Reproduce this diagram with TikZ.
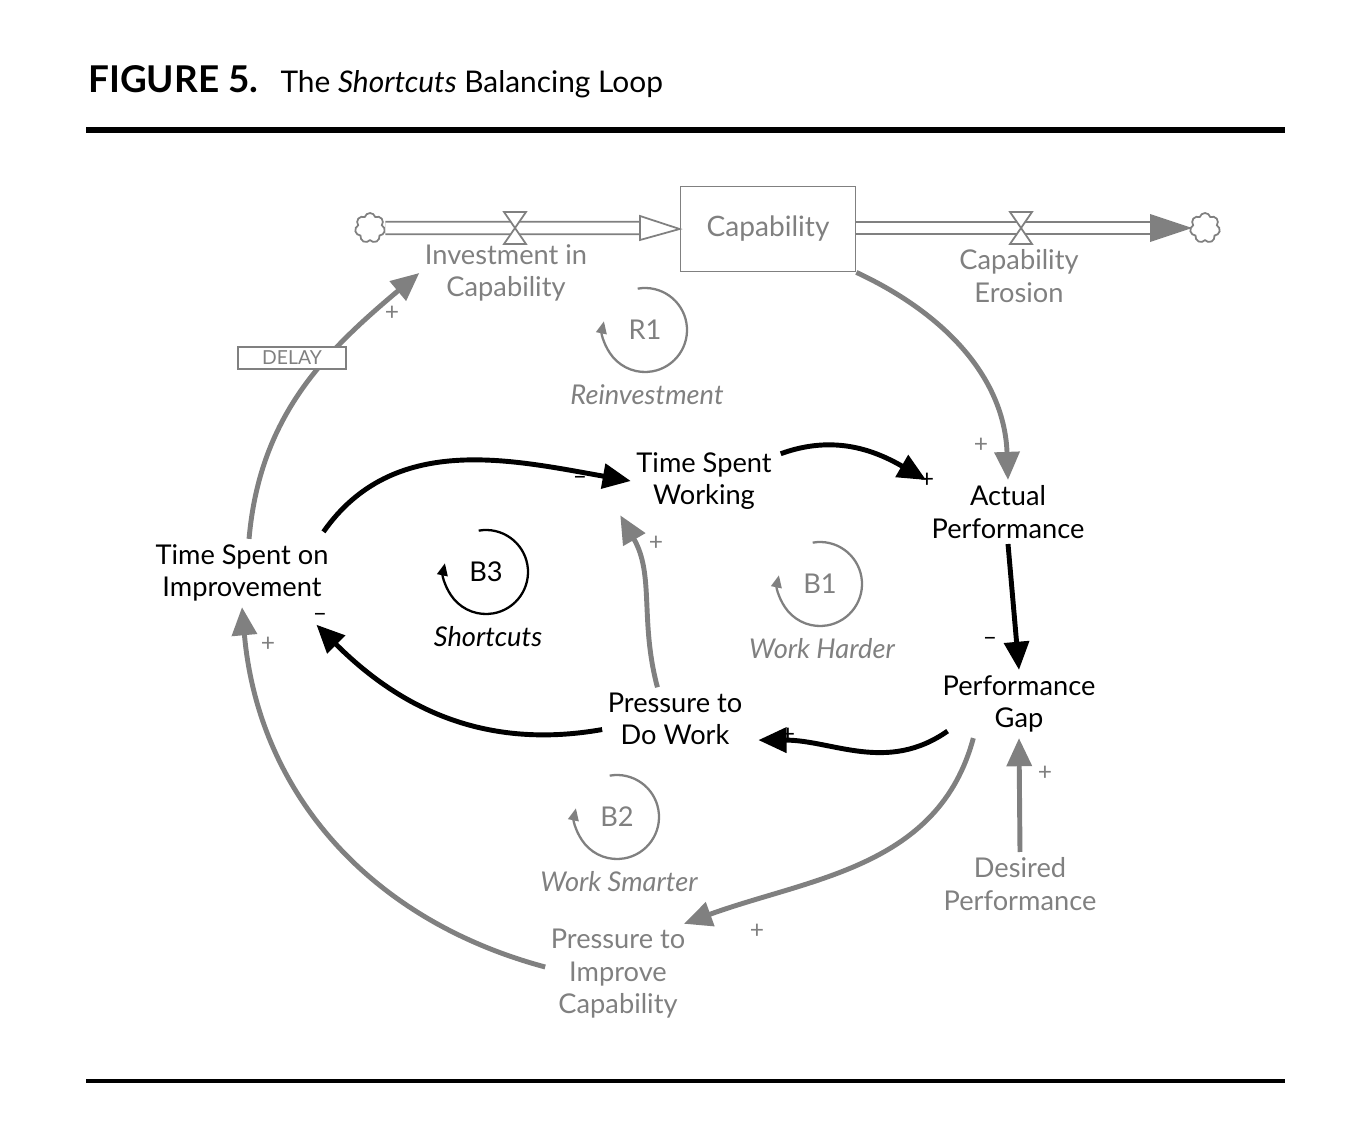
\documentclass[tikz,border=0pt]{standalone}
\usepackage{fontspec}
\setmainfont{Lato}
\usetikzlibrary{arrows.meta,shapes.symbols}
\definecolor{loopgray}{RGB}{128,128,128}
\tikzset{
  lbl/.style={align=center,font=\fontsize{15.5}{18.5}\selectfont,inner sep=3pt},
  glbl/.style={lbl,text=loopgray},
  blk/.style={line width=2.8pt,-{Triangle[length=16pt,width=14pt]},black},
  gry/.style={line width=2.8pt,-{Triangle[length=16pt,width=14pt]},loopgray},
  sgn/.style={font=\fontsize{14}{14}\selectfont},
  loopsym/.style={line width=1.3pt,-{Triangle[length=7pt,width=6pt]}},
}
\begin{document}
\begin{tikzpicture}[x=0.02cm,y=-0.02cm]
\useasboundingbox (0,0) rectangle (1352,1122);
% header and rules
\node[anchor=west,inner sep=0] (title) at (88,82) {\fontsize{21}{24}\selectfont\textbf{FIGURE 5.}\hspace{0.6em}{\fontsize{17}{20}\selectfont The \textit{Shortcuts} Balancing Loop}};
\draw[line width=3pt] (86,130) -- (1285,130);
\draw[line width=2pt] (86,1081) -- (1285,1081);

% stock and flows
\node[draw=loopgray,line width=1pt,minimum width=3.5cm,minimum height=1.7cm,glbl,font=\fontsize{16}{19}\selectfont] (cap) at (768,229) {Capability};
\node[cloud,draw=loopgray,line width=1pt,cloud puffs=7,minimum width=0.6cm,minimum height=0.6cm,inner sep=0] (src) at (370,228) {};
\node[cloud,draw=loopgray,line width=1pt,cloud puffs=7,minimum width=0.6cm,minimum height=0.6cm,inner sep=0] (snk) at (1205,228) {};
\coordinate (intip) at (640,228);
\coordinate (outtip) at (1150,228);
\draw[loopgray,line width=1pt,double=white,double distance=6pt] (src.east) -- (intip);
\draw[loopgray,line width=1pt,fill=white] (640,216) -- (cap.west) -- (640,240) -- cycle;
\draw[loopgray,line width=1pt,double=white,double distance=6pt] (cap.east |- outtip) -- (outtip);
\fill[loopgray] (1150,214) -- (1192,228) -- (1150,242) -- cycle;
\foreach \vx in {515,1021}
  \draw[loopgray,line width=1pt,fill=white] (\vx-11,212) -- (\vx+11,212) -- (\vx-11,244) -- (\vx+11,244) -- cycle;
\node[glbl] (inv) at (506,273) {Investment in\\Capability};
\node[glbl] (ero) at (1019,276) {Capability\\Erosion};

% variables
\node[lbl] (tsw) at (704,481) {Time Spent\\Working};
\node[lbl] (act) at (1008,512) {Actual\\Performance};
\node[lbl] (tsi) at (242,573) {Time Spent on\\Improvement};
\node[lbl] (gap) at (1019,704) {Performance\\Gap};
\node[lbl] (pwk) at (675,719) {Pressure to\\Do Work};
\node[glbl] (des) at (1020,884) {Desired\\Performance};
\node[glbl] (pic) at (618,974) {Pressure to\\Improve\\Capability};

% loop markers
\foreach \nm/\cx/\cy/\txt/\lab/\col in {r1/645/330/R1/Reinvestment/loopgray,
    b3/486/572/B3/Shortcuts/black, b1/820/584/B1/Work Harder/loopgray,
    b2/617/817/B2/Work Smarter/loopgray} {
  \node[lbl,text=\col] (\nm) at (\cx,\cy) {\txt};
  \node[lbl,text=\col,font=\fontsize{15.5}{18}\selectfont\itshape] (\nm lab) at (\cx+2,\cy+65) {\lab};
  \draw[loopsym,\col] (\cx,\cy) ++(-100:42) arc[start angle=-100,end angle=192,radius=42];
}

% links
\draw[gry] (cap.south east) to[out=-25,in=92] (act.north);
\node[sgn,loopgray] at (981,445) {+};
\draw[blk] ([xshift=2pt,yshift=-4pt]tsw.north east) to[out=20,in=150] (act.north west);
\node[sgn] at (927,480) {+};
\draw[blk] ([xshift=-6pt,yshift=4pt]tsi.north east) to[out=55,in=170] (tsw.west);
\node[sgn] at (580,480) {--};
\draw[blk] (act.south) -- (gap.north);
\node[sgn] at (990,641) {--};
\draw[blk] ([xshift=6pt,yshift=4pt]gap.south west) to[out=-145,in=0] ([xshift=6pt,yshift=-12pt]pwk.east);
\node[sgn] at (788,735) {+};
\draw[blk] ([yshift=-6pt]pwk.west) to[out=190,in=-45] ([xshift=-10pt,yshift=-10pt]tsi.south east);
\node[sgn] at (320,617) {--};
\draw[gry] ([xshift=-10pt]pwk.north) to[out=105,in=-60] ([xshift=-6pt]tsw.south west);
\node[sgn,loopgray] at (656,543) {+};
\draw[gry] ([xshift=-26pt]gap.south) to[out=-105,in=20] ([xshift=-4pt]pic.north east);
\node[sgn,loopgray] at (757,931) {+};
\draw[gry] (des.north) -- (gap.south);
\node[sgn,loopgray] at (1045,773) {+};
\draw[gry] ([yshift=4pt]pic.west) to[out=165,in=-85] (tsi.south);
\node[sgn,loopgray] at (268,644) {+};
\draw[gry] ([xshift=4pt]tsi.north) to[out=85,in=-140] (inv.west);
\node[sgn,loopgray] at (392,313) {+};
\node[draw=loopgray,line width=0.8pt,fill=white,minimum width=2.16cm,minimum height=0.44cm,inner sep=0,text=loopgray,font=\fontsize{11}{11}\selectfont] (delay) at (292,358) {DELAY};
\end{tikzpicture}
\end{document}
